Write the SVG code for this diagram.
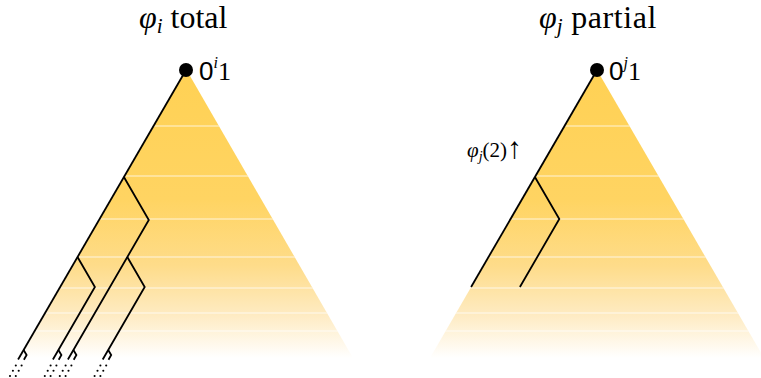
<svg xmlns="http://www.w3.org/2000/svg" width="761" height="378" viewBox="0 0 761 378">
<style>
text{font-family:"Liberation Serif","DejaVu Serif",serif;fill:#000}
.it{font-style:italic}
.sans{font-family:"Liberation Sans","DejaVu Sans",sans-serif}
.tree{fill:none;stroke:#000;stroke-width:1.8;stroke-linejoin:miter;stroke-linecap:butt}
.stripe{stroke:#fff;stroke-opacity:0.5;stroke-width:1.4}
.dot{fill:#000}
</style>
<defs>
<linearGradient id="fade" x1="0" y1="0" x2="0" y2="1">
<stop offset="0" stop-color="#FFD154"/>
<stop offset="0.45" stop-color="#FFD462"/>
<stop offset="0.68" stop-color="#FEDC8A"/>
<stop offset="0.85" stop-color="#FEEBC2"/>
<stop offset="1" stop-color="#FFFFFF"/>
</linearGradient>
<clipPath id="clipL"><polygon points="186,69 19,358 353,358"/></clipPath>
<clipPath id="clipR"><polygon points="597,70 430,358 764,358"/></clipPath>
<circle id="d" r="1.05"/>
</defs>

<g id="cone-i">
<polygon points="186,69 19,358 353,358" fill="url(#fade)"/>
<g clip-path="url(#clipL)">
<line class="stripe" x1="0" y1="126" x2="380" y2="126"/>
<line class="stripe" x1="0" y1="176" x2="380" y2="176"/>
<line class="stripe" x1="0" y1="219" x2="380" y2="219"/>
<line class="stripe" x1="0" y1="257" x2="380" y2="257"/>
<line class="stripe" x1="0" y1="288" x2="380" y2="288"/>
<line class="stripe" x1="0" y1="313" x2="380" y2="313"/>
<line class="stripe" x1="0" y1="331" x2="380" y2="331"/>
</g>
</g>

<g id="cone-j">
<polygon points="597,70 430,358 764,358" fill="url(#fade)"/>
<g clip-path="url(#clipR)">
<line class="stripe" x1="420" y1="126" x2="761" y2="126"/>
<line class="stripe" x1="420" y1="176" x2="761" y2="176"/>
<line class="stripe" x1="420" y1="219" x2="761" y2="219"/>
<line class="stripe" x1="420" y1="257" x2="761" y2="257"/>
<line class="stripe" x1="420" y1="288" x2="761" y2="288"/>
<line class="stripe" x1="420" y1="313" x2="761" y2="313"/>
<line class="stripe" x1="420" y1="331" x2="761" y2="331"/>
</g>
</g>

<g id="connectors">
<!-- left tree -->
<path class="tree" d="M186,70 L18.1,359.5"/>
<path class="tree" d="M123.9,177 L148.8,220 L67.9,359.5"/>
<path class="tree" d="M127.3,257 L144.7,287 L102.7,359.5"/>
<path class="tree" d="M77.5,257 L94.9,287 L52.9,359.5"/>
<!-- leaf forks -->
<path class="tree" d="M23.6,350 L26.6,355 L23.9,359.7"/>
<path class="tree" d="M58.4,350 L61.4,355 L58.7,359.7"/>
<path class="tree" d="M73.4,350 L76.4,355 L73.7,359.7"/>
<path class="tree" d="M108.2,350 L111.2,355 L108.5,359.7"/>
<!-- right tree -->
<path class="tree" d="M597,70 L471.1,287"/>
<path class="tree" d="M534.9,177 L559.3,219 L519.9,287"/>
</g>

<g id="leaf-dots" class="dot">
<use href="#d" x="15.8" y="365.5"/><use href="#d" x="12.9" y="370.8"/><use href="#d" x="10" y="376"/>
<use href="#d" x="21.6" y="365.5"/><use href="#d" x="18.7" y="370.8"/><use href="#d" x="15.8" y="376"/>
<use href="#d" x="50.6" y="365.5"/><use href="#d" x="47.7" y="370.8"/><use href="#d" x="44.8" y="376"/>
<use href="#d" x="56.4" y="365.5"/><use href="#d" x="53.5" y="370.8"/><use href="#d" x="50.6" y="376"/>
<use href="#d" x="65.6" y="365.5"/><use href="#d" x="62.7" y="370.8"/><use href="#d" x="59.8" y="376"/>
<use href="#d" x="71.4" y="365.5"/><use href="#d" x="68.5" y="370.8"/><use href="#d" x="65.6" y="376"/>
<use href="#d" x="100.4" y="365.5"/><use href="#d" x="97.5" y="370.8"/><use href="#d" x="94.6" y="376"/>
<use href="#d" x="106.2" y="365.5"/><use href="#d" x="103.3" y="370.8"/><use href="#d" x="100.4" y="376"/>
</g>

<g id="title-i">
<text x="139" y="28" font-size="32"><tspan class="it">φ</tspan><tspan class="it" font-size="21" dy="5">i</tspan><tspan dy="-5"> total</tspan></text>
</g>
<g id="title-j">
<text x="539" y="28" font-size="32"><tspan class="it">φ</tspan><tspan class="it" font-size="21" dy="5">j</tspan><tspan dy="-5" letter-spacing="0.6"> partial</tspan></text>
</g>

<g id="root-i">
<circle cx="186" cy="70" r="7" fill="#000"/>
<text x="199" y="80" font-size="26"><tspan class="sans">0</tspan><tspan class="it" font-size="16" dy="-12">i</tspan><tspan dy="12">1</tspan></text>
</g>
<g id="root-j">
<circle cx="597" cy="70" r="7" fill="#000"/>
<text x="609" y="80" font-size="26"><tspan class="sans">0</tspan><tspan class="it" font-size="16" dy="-12">j</tspan><tspan dy="12">1</tspan></text>
</g>

<g id="label-diverge">
<text x="467" y="157" font-size="21"><tspan class="it">φ</tspan><tspan class="it" font-size="14" dy="4">j</tspan><tspan dy="-4">(2)</tspan><tspan font-size="30" dy="1">↑</tspan></text>
</g>
</svg>
